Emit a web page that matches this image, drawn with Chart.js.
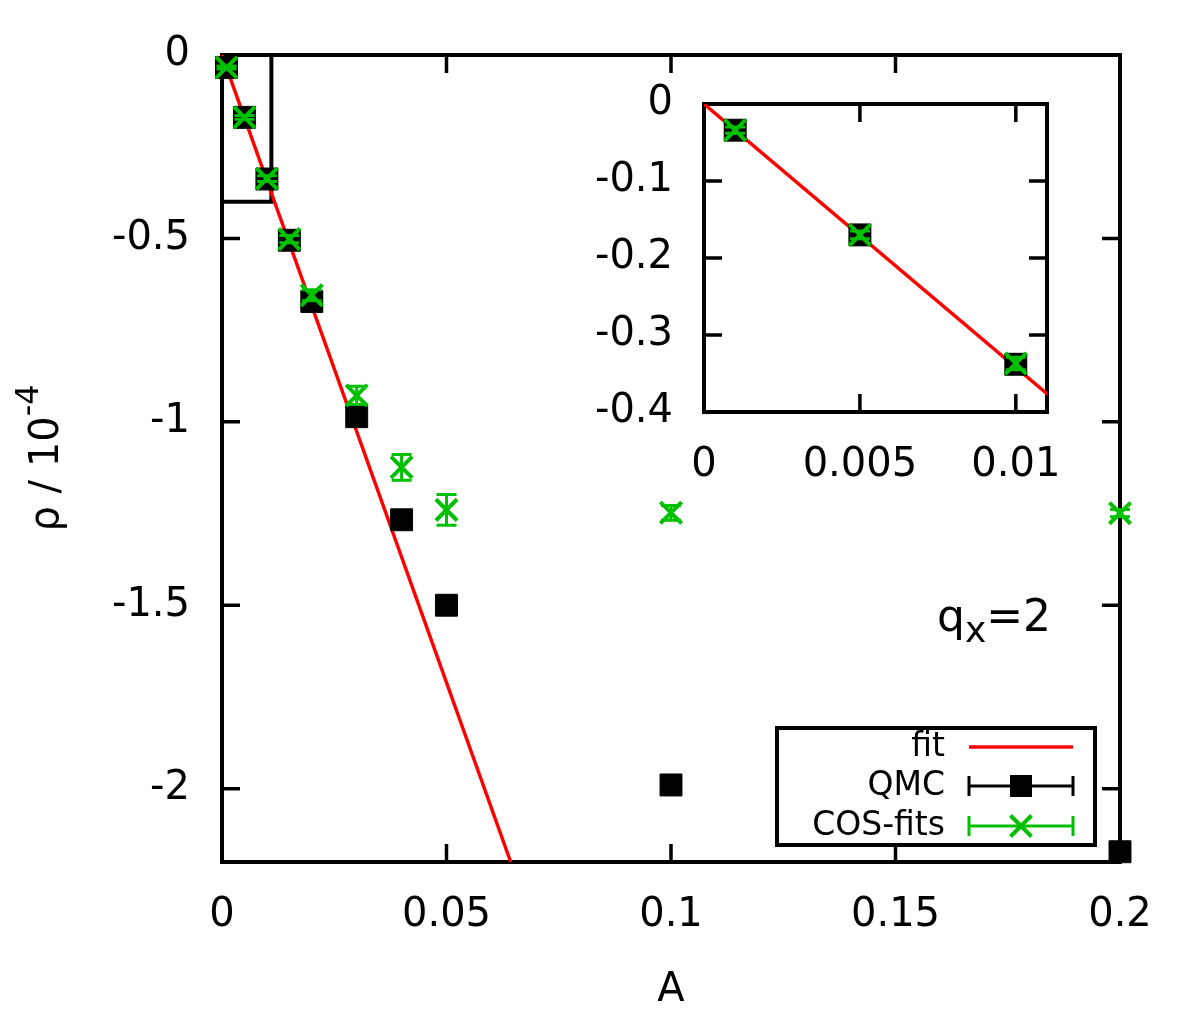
<!DOCTYPE html>
<html><head><meta charset="utf-8">
<script src="https://cdn.jsdelivr.net/npm/chart.js@4.4.0/dist/chart.umd.min.js"></script>
<style>
html,body{margin:0;padding:0;background:#fff;}
#wrap{position:relative;width:1200px;height:1019px;overflow:hidden;}
#main{position:absolute;left:0;top:0;}
#inset{position:absolute;left:560px;top:60px;}
</style></head><body>
<div id="wrap"><canvas id="main" width="1200" height="1019"></canvas><canvas id="inset" width="520" height="440"></canvas></div>
<script>
// ---- data ----
const A_values = [0.001, 0.005, 0.01, 0.015, 0.02, 0.03, 0.04, 0.05, 0.1, 0.2];
const qmcRho   = [-0.034, -0.170, -0.338, -0.505, -0.672, -0.986, -1.267, -1.500, -1.990, -2.172];
const qmcErr   = [0.004, 0.004, 0.005, 0.005, 0.006, 0.008, 0.010, 0.012, 0.010, 0.008];
const cosRho   = [-0.034, -0.170, -0.337, -0.502, -0.655, -0.928, -1.124, -1.240, -1.248, -1.249];
const cosErr   = [0.004, 0.005, 0.008, 0.010, 0.015, 0.025, 0.035, 0.042, 0.020, 0.010];
const fitA     = [0, 0.0643];
const fitRho   = [0, -2.2];
const mainXRange = [0, 0.2], mainYRange = [-2.2, 0];
const insetXRange = [0, 0.011], insetYRange = [-0.4, 0];
const mainXTicks = [0, 0.05, 0.1, 0.15, 0.2];
const mainXTickLabels = ['0', '0.05', '0.1', '0.15', '0.2'];
const mainYTicks = [0, -0.5, -1, -1.5, -2];
const mainYTickLabels = ['0', '-0.5', '-1', '-1.5', '-2'];
const insetXTicks = [0, 0.005, 0.01];
const insetXTickLabels = ['0', '0.005', '0.01'];
const insetYTicks = [0, -0.1, -0.2, -0.3, -0.4];
const insetYTickLabels = ['0', '-0.1', '-0.2', '-0.3', '-0.4'];
const seriesNames = ['fit', 'QMC', 'COS-fits'];

const FONT = "'DejaVu Sans', sans-serif";
const GREEN = '#00c000', RED = '#ff0000', BLACK = '#000000';

const pts = (xs, ys) => xs.map((x, i) => ({x: x, y: ys[i]}));

function makeDatasets(withBox) {
  const ds = [
    {label: seriesNames[2], data: pts(A_values, cosRho), errors: cosErr, order: 0,
     pointStyle: 'crossRot', pointRadius: 15, borderColor: GREEN, backgroundColor: GREEN,
     borderWidth: 4, showLine: false},
    {label: seriesNames[1], data: pts(A_values, qmcRho), errors: qmcErr, order: 1,
     pointStyle: 'rect', pointRadius: 15.5, borderColor: BLACK, backgroundColor: BLACK,
     borderWidth: 1, showLine: false},
    {label: seriesNames[0], data: pts(fitA, fitRho), order: 2, showLine: true,
     pointRadius: 0, borderColor: RED, borderWidth: 3.5, fill: false}
  ];
  if (withBox) {
    ds.push({label: 'inset', data: pts([insetXRange[0], insetXRange[1], insetXRange[1]],
                                       [insetYRange[0], insetYRange[0], insetYRange[1]]),
             order: 3, showLine: true, pointRadius: 0, borderColor: BLACK, borderWidth: 4, fill: false});
  }
  return ds;
}

const framePlugin = {
  id: 'frame',
  beforeDatasetsDraw(chart) {
    const {ctx, chartArea: a, scales: {x, y}} = chart;
    const L = 18;
    ctx.save();
    ctx.strokeStyle = BLACK; ctx.lineWidth = 3.5;
    ctx.beginPath();
    x.ticks.forEach(t => {
      const p = x.getPixelForValue(t.value);
      ctx.moveTo(p, a.bottom); ctx.lineTo(p, a.bottom - L);
      ctx.moveTo(p, a.top); ctx.lineTo(p, a.top + L);
    });
    y.ticks.forEach(t => {
      const p = y.getPixelForValue(t.value);
      ctx.moveTo(a.left, p); ctx.lineTo(a.left + L, p);
      ctx.moveTo(a.right, p); ctx.lineTo(a.right - L, p);
    });
    ctx.stroke();
    ctx.lineWidth = 4;
    ctx.strokeRect(a.left, a.top, a.right - a.left, a.bottom - a.top);
    ctx.restore();
  }
};

const errorPlugin = {
  id: 'errbars',
  afterDatasetDraw(chart, args, opts) {
    const ds = chart.data.datasets[args.index];
    if (!ds.errors) return;
    const {ctx, chartArea: a} = chart;
    const ys = chart.scales.y;
    ctx.save();
    if (opts.clip) { ctx.beginPath(); ctx.rect(a.left, a.top, a.right - a.left, a.bottom - a.top); ctx.clip(); }
    ctx.strokeStyle = ds.borderColor; ctx.lineWidth = 3;
    ctx.beginPath();
    args.meta.data.forEach((pt, i) => {
      const v = ds.data[i].y, e = ds.errors[i];
      const y1 = ys.getPixelForValue(v + e), y2 = ys.getPixelForValue(v - e);
      const px = pt.x, w = 10;
      ctx.moveTo(px, y1); ctx.lineTo(px, y2);
      ctx.moveTo(px - w, y1); ctx.lineTo(px + w, y1);
      ctx.moveTo(px - w, y2); ctx.lineTo(px + w, y2);
    });
    ctx.stroke();
    ctx.restore();
  }
};

function drawCross(ctx, x, y, h) {
  ctx.beginPath();
  ctx.moveTo(x - h, y - h); ctx.lineTo(x + h, y + h);
  ctx.moveTo(x - h, y + h); ctx.lineTo(x + h, y - h);
  ctx.stroke();
}

const annotPlugin = {
  id: 'annot',
  afterDraw(chart) {
    const ctx = chart.ctx;
    const a = chart.chartArea;
    ctx.save();
    ctx.fillStyle = BLACK;
    // x title
    ctx.font = '40px ' + FONT;
    ctx.textAlign = 'center'; ctx.textBaseline = 'alphabetic';
    ctx.fillText('A', (a.left + a.right) / 2, 1001);
    // y title with superscript
    ctx.save();
    ctx.translate(58, 458); ctx.rotate(-Math.PI / 2);
    ctx.textAlign = 'left';
    ctx.font = '40px ' + FONT;
    const t1 = 'ρ / 10';
    const w1 = ctx.measureText(t1).width;
    ctx.font = '32px ' + FONT;
    const w2 = ctx.measureText('-4').width;
    const s = -(w1 + w2) / 2;
    ctx.font = '40px ' + FONT;
    ctx.fillText(t1, s, 0);
    ctx.font = '32px ' + FONT;
    ctx.fillText('-4', s + w1, -20);
    ctx.restore();
    // q_x = 2
    ctx.textAlign = 'left';
    ctx.font = '44px ' + FONT;
    let xx = 937;
    ctx.fillText('q', xx, 631); xx += ctx.measureText('q').width;
    ctx.font = '36px ' + FONT;
    ctx.fillText('x', xx, 642); xx += ctx.measureText('x').width;
    ctx.font = '44px ' + FONT;
    ctx.fillText('=2', xx, 631);
    // legend
    const bx = 777, by = 728, bw = 318, bh = 117;
    ctx.fillStyle = '#fff'; ctx.fillRect(bx, by, bw, bh);
    ctx.strokeStyle = BLACK; ctx.lineWidth = 4; ctx.strokeRect(bx, by, bw, bh);
    const rows = [747, 786, 826];
    const x1 = 969, x2 = 1073, xc = 1021;
    ctx.font = '33px ' + FONT; ctx.textAlign = 'right'; ctx.textBaseline = 'middle';
    ctx.fillStyle = BLACK;
    const dsFit = chart.data.datasets[2], dsQ = chart.data.datasets[1], dsC = chart.data.datasets[0];
    ctx.fillText(dsFit.label, 945, rows[0]);
    ctx.fillText(dsQ.label, 945, rows[1]);
    ctx.fillText(dsC.label, 945, rows[2]);
    // fit sample
    ctx.strokeStyle = dsFit.borderColor; ctx.lineWidth = 3.5;
    ctx.beginPath(); ctx.moveTo(x1, rows[0]); ctx.lineTo(x2, rows[0]); ctx.stroke();
    // error-bar samples
    [[dsQ, rows[1]], [dsC, rows[2]]].forEach(([d, ry]) => {
      ctx.strokeStyle = d.borderColor; ctx.lineWidth = 3;
      ctx.beginPath();
      ctx.moveTo(x1, ry); ctx.lineTo(x2, ry);
      ctx.moveTo(x1, ry - 10); ctx.lineTo(x1, ry + 10);
      ctx.moveTo(x2, ry - 10); ctx.lineTo(x2, ry + 10);
      ctx.stroke();
    });
    ctx.fillStyle = dsQ.backgroundColor; ctx.fillRect(xc - 11, rows[1] - 11, 22, 22);
    ctx.strokeStyle = dsC.borderColor; ctx.lineWidth = 4;
    drawCross(ctx, xc, rows[2], 10.5);
    ctx.restore();
  }
};

function setTicks(vals) { return s => { s.ticks = vals.map(v => ({value: v})); }; }

function scaleOpts(range, tickVals, tickLabels, pad, fitFn) {
  return {
    type: 'linear', min: range[0], max: range[1],
    grid: {display: false, drawTicks: false}, border: {display: false},
    afterBuildTicks: setTicks(tickVals),
    afterFit: s => { fitFn(s); s.paddingTop = 0; s.paddingBottom = 0; s.paddingLeft = 0; s.paddingRight = 0; },
    ticks: {color: BLACK, font: {family: FONT, size: 40}, padding: pad,
            autoSkip: false, maxRotation: 0, minRotation: 0,
            callback: (v, i) => tickLabels[i]}
  };
}

Chart.defaults.font.family = FONT;

new Chart(document.getElementById('main'), {
  type: 'scatter',
  data: {datasets: makeDatasets(true)},
  options: {
    responsive: false, animation: false, devicePixelRatio: 1,
    layout: {padding: {top: 55, right: 80, left: 0, bottom: 0}},
    plugins: {legend: {display: false}, tooltip: {enabled: false}, errbars: {clip: false}},
    datasets: {scatter: {clip: false}},
    scales: {
      x: scaleOpts(mainXRange, mainXTicks, mainXTickLabels, 30, s => { s.height = 157; }),
      y: scaleOpts(mainYRange, mainYTicks, mainYTickLabels, 32, s => { s.width = 222; })
    }
  },
  plugins: [framePlugin, errorPlugin, annotPlugin]
});

new Chart(document.getElementById('inset'), {
  type: 'scatter',
  data: {datasets: makeDatasets(false)},
  options: {
    responsive: false, animation: false, devicePixelRatio: 1,
    layout: {padding: {top: 44, right: 33, left: 0, bottom: 0}},
    plugins: {legend: {display: false}, tooltip: {enabled: false}, errbars: {clip: true}},
    scales: {
      x: scaleOpts(insetXRange, insetXTicks, insetXTickLabels, 30, s => { s.height = 88; }),
      y: scaleOpts(insetYRange, insetYTicks, insetYTickLabels, 31, s => { s.width = 144; })
    }
  },
  plugins: [framePlugin, errorPlugin]
});
</script>
</body></html>
